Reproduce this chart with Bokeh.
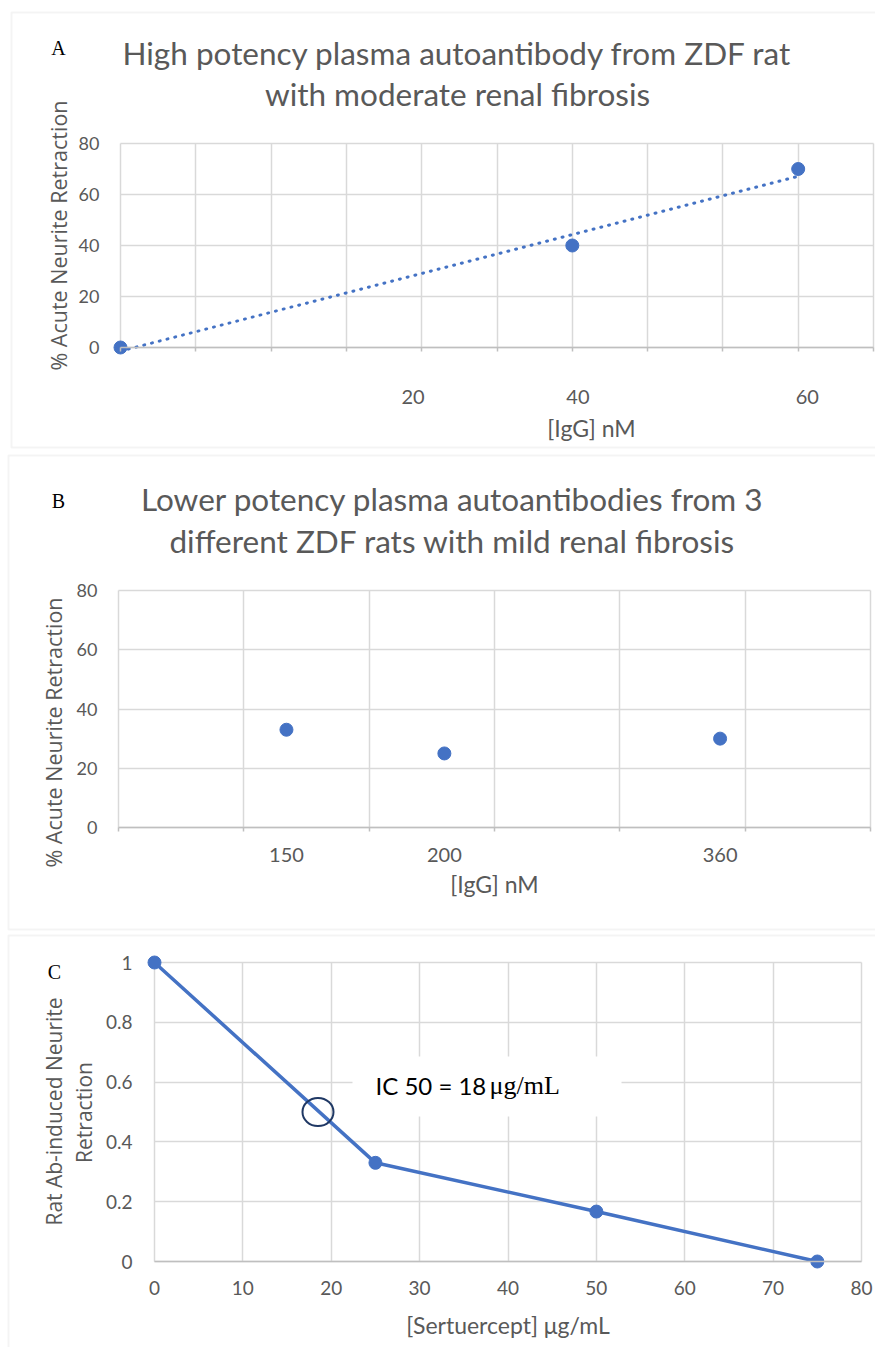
import numpy as np
from bokeh.plotting import figure
from bokeh.models import Range1d, FixedTicker, Label, BoxAnnotation, NumeralTickFormatter
from bokeh.layouts import column
from bokeh.embed import file_html
from bokeh.resources import INLINE

# ---------------- data ----------------
A_x = [0, 40, 60]
A_y = [0, 40, 70]
A_tick_pos = [25.9, 40.5, 60.8]
A_tick_labels = ["20", "40", "60"]
A_yticks = [0, 20, 40, 60, 80]
A_title = ["High potency plasma autoantibody from ZDF rat", "with moderate renal fibrosis"]

B_x = [1.34, 2.6, 4.8]
B_y = [33, 25, 30]
B_tick_labels = ["150", "200", "360"]
B_yticks = [0, 20, 40, 60, 80]
B_title = ["Lower potency plasma autoantibodies from 3", "different ZDF rats with mild renal fibrosis"]

C_x = [0, 25, 50, 75]
C_y = [1, 0.33, 0.167, 0]
C_xticks = [0, 10, 20, 30, 40, 50, 60, 70, 80]
C_yticks = [0, 0.2, 0.4, 0.6, 0.8, 1.0]
IC50_x, IC50_y = 18.5, 0.5

Y_TITLE = "% Acute Neurite Retraction"
X_TITLE_AB = "[IgG] nM"
C_YTITLE = ["Rat Ab-induced Neurite", "Retraction"]
C_XTITLE = "[Sertuercept] \u03bcg/mL"

# ---------------- styles ----------------
BLUE = "#4472C4"
GRID = "#D9D9D9"
AXIS = "#BFBFBF"
TXT = "#595959"
SANS = "Lato"
YFONT = "Open Sans"
SERIF = "Liberation Serif"
PAGE_W = 875
TITLE_SIZE = "31.5px"
AXT_SIZE = "23px"


class Panel:
    """Figure whose frame fills the canvas; data region mapped to page pixels."""

    def __init__(self, canvas, xmap, ymap, xlim, ylim):
        cx0, cy0, cw, ch = canvas
        (v0, p0), (v1, p1) = xmap
        (w0, q0), (w1, q1) = ymap
        self.sx = (v1 - v0) / (p1 - p0)
        self.sy = (w1 - w0) / (q1 - q0)
        self.v0, self.p0, self.w0, self.q0 = v0, p0, w0, q0
        self.p = figure(width=cw, height=ch, title=None,
                        x_range=Range1d(self.xd(cx0), self.xd(cx0 + cw)),
                        y_range=Range1d(self.yd(cy0 + ch), self.yd(cy0)),
                        output_backend="svg", toolbar_location=None, min_border=0)
        p = self.p
        p.outline_line_color = None
        p.background_fill_color = "white"
        p.border_fill_color = "white"
        for ax in (p.xaxis, p.yaxis):
            ax.fixed_location = 0
            ax.major_tick_line_color = None
            ax.minor_tick_line_color = None
            ax.major_tick_in = 0
            ax.major_tick_out = 0
            ax.major_label_text_font = SANS
            ax.major_label_text_font_size = "18px"
            ax.major_label_text_color = TXT
            ax.axis_label_text_font = SANS
            ax.axis_label_text_font_size = AXT_SIZE
            ax.axis_label_text_font_style = "normal"
            ax.axis_label_text_color = TXT
        p.xaxis.bounds = xlim
        p.yaxis.bounds = ylim
        p.yaxis.axis_line_color = None
        p.xaxis.axis_line_color = AXIS
        p.xaxis.axis_line_width = 1.5
        for g in (p.xgrid, p.ygrid):
            g.grid_line_color = GRID
            g.grid_line_width = 1.5
        p.xgrid.cross_bounds = ylim
        p.ygrid.cross_bounds = xlim

    def xd(self, px):
        return self.v0 + (px - self.p0) * self.sx

    def yd(self, py):
        return self.w0 + (py - self.q0) * self.sy

    def label(self, ax, ay, text, font=SANS, size="20px", color=TXT, angle=0, align="center"):
        self.p.add_layout(Label(x=self.xd(ax), y=self.yd(ay), text=text, text_font=font,
                                text_font_size=size, text_color=color, angle=angle,
                                text_align=align, text_baseline="middle"))

    def border(self, left, top, bottom, right=2000):
        self.p.add_layout(BoxAnnotation(left=self.xd(left), right=self.xd(right),
                                        top=self.yd(top), bottom=self.yd(bottom),
                                        fill_color=None, line_color=GRID, line_width=2,
                                        level="underlay"))


# ---------------- panel A ----------------
A = Panel((0, 0, PAGE_W, 450), ((0, 120), (200 / 3, 873)), ((0, 347), (80, 143)),
          (0, 200 / 3), (0, 80))
pA = A.p
gridA = [k * 20 / 3 for k in range(11)]
pA.xgrid.ticker = FixedTicker(ticks=gridA)
pA.xaxis.ticker = FixedTicker(ticks=A_tick_pos, minor_ticks=gridA)
pA.xaxis.major_label_overrides = {t: s for t, s in zip(A_tick_pos, A_tick_labels)}
pA.xaxis.major_label_text_font_size = "20px"
pA.xaxis.minor_tick_line_color = AXIS
pA.xaxis.minor_tick_line_width = 1.5
pA.xaxis.minor_tick_in = 0
pA.xaxis.minor_tick_out = 4
pA.xaxis.major_label_standoff = 38
pA.yaxis.ticker = FixedTicker(ticks=A_yticks)
pA.yaxis.major_label_standoff = 21
A.border(11, 12, 447)

slope, icpt = np.polyfit(A_x, A_y, 1)
tx = np.array([min(A_x), max(A_x)], dtype=float)
pA.line(tx, slope * tx + icpt, line_color=BLUE, line_width=3, line_dash="1 7", line_cap="round")
pA.scatter(A_x, A_y, marker="circle", size=13, fill_color=BLUE, line_color=BLUE)

A.label(58, 47, "A", font=SERIF, size="20px", color="black")
A.label(457, 52, A_title[0], size=TITLE_SIZE)
A.label(457, 93, A_title[1], size=TITLE_SIZE)
A.label(58, 235, Y_TITLE, font=YFONT, size="21.5px", angle=np.pi / 2)
A.label(591, 427, X_TITLE_AB, size=AXT_SIZE)

# ---------------- panel B ----------------
B = Panel((0, 450, PAGE_W, 482), ((0, 118), (6, 870)), ((0, 827), (80, 590)), (0, 6), (0, 80))
pB = B.p
gridB = list(range(7))
pB.xgrid.ticker = FixedTicker(ticks=gridB)
pB.xaxis.ticker = FixedTicker(ticks=B_x, minor_ticks=gridB)
pB.xaxis.major_label_overrides = {t: s for t, s in zip(B_x, B_tick_labels)}
pB.xaxis.major_label_text_font_size = "20px"
pB.xaxis.minor_tick_line_color = AXIS
pB.xaxis.minor_tick_line_width = 1.5
pB.xaxis.minor_tick_in = 0
pB.xaxis.minor_tick_out = 4
pB.xaxis.major_label_standoff = 16
pB.xaxis.axis_label = X_TITLE_AB
pB.xaxis.axis_label_standoff = 5
pB.yaxis.ticker = FixedTicker(ticks=B_yticks)
pB.yaxis.major_label_standoff = 21
B.border(8, 455, 929)
pB.scatter(B_x, B_y, marker="circle", size=13, fill_color=BLUE, line_color=BLUE)

B.label(58, 500, "B", font=SERIF, size="20px", color="black")
B.label(452, 498, B_title[0], size=TITLE_SIZE)
B.label(452, 540, B_title[1], size=TITLE_SIZE)
B.label(53, 732, Y_TITLE, font=YFONT, size="21.5px", angle=np.pi / 2)

# ---------------- panel C ----------------
C = Panel((0, 932, PAGE_W, 415), ((0, 154), (80, 861)), ((0, 1261), (1, 962)), (0, 80), (0, 1))
pC = C.p
pC.xaxis.ticker = FixedTicker(ticks=C_xticks)
pC.yaxis.ticker = FixedTicker(ticks=C_yticks)
pC.yaxis.formatter = NumeralTickFormatter(format="0.[0]")
pC.xaxis.major_label_text_font_size = "19px"
pC.yaxis.major_label_text_font_size = "19px"
pC.xaxis.major_label_standoff = 19
pC.xaxis.axis_label = C_XTITLE
pC.xaxis.axis_label_standoff = 13
pC.yaxis.major_label_standoff = 22
C.border(8, 935, 1500)

pC.add_layout(BoxAnnotation(left=C.xd(352), right=C.xd(621), top=C.yd(1056), bottom=C.yd(1116),
                            fill_color="white", fill_alpha=1.0, line_color=None))
pC.line(C_x, C_y, line_color=BLUE, line_width=3.5)
pC.scatter(C_x, C_y, marker="circle", size=13, fill_color=BLUE, line_color=BLUE)
pC.ellipse(x=[IC50_x], y=[IC50_y], width=31, height=28, width_units="screen", height_units="screen",
           fill_color=None, line_color="#1F3864", line_width=2)

C.label(54, 971, "C", font=SERIF, size="20px", color="black")
C.label(53, 1111, C_YTITLE[0], font=YFONT, size="21px", angle=np.pi / 2)
C.label(83, 1112, C_YTITLE[1], font=YFONT, size="21px", angle=np.pi / 2)
C.label(375, 1085, "IC 50 = %g" % 18, size="24px", color="black", align="left")
C.label(489, 1085, "\u03bcg/mL", font=SERIF, size="26px", color="black", align="left")

layout = column(pA, pB, pC, spacing=0)
open("out.html", "w").write(file_html(layout, INLINE))
